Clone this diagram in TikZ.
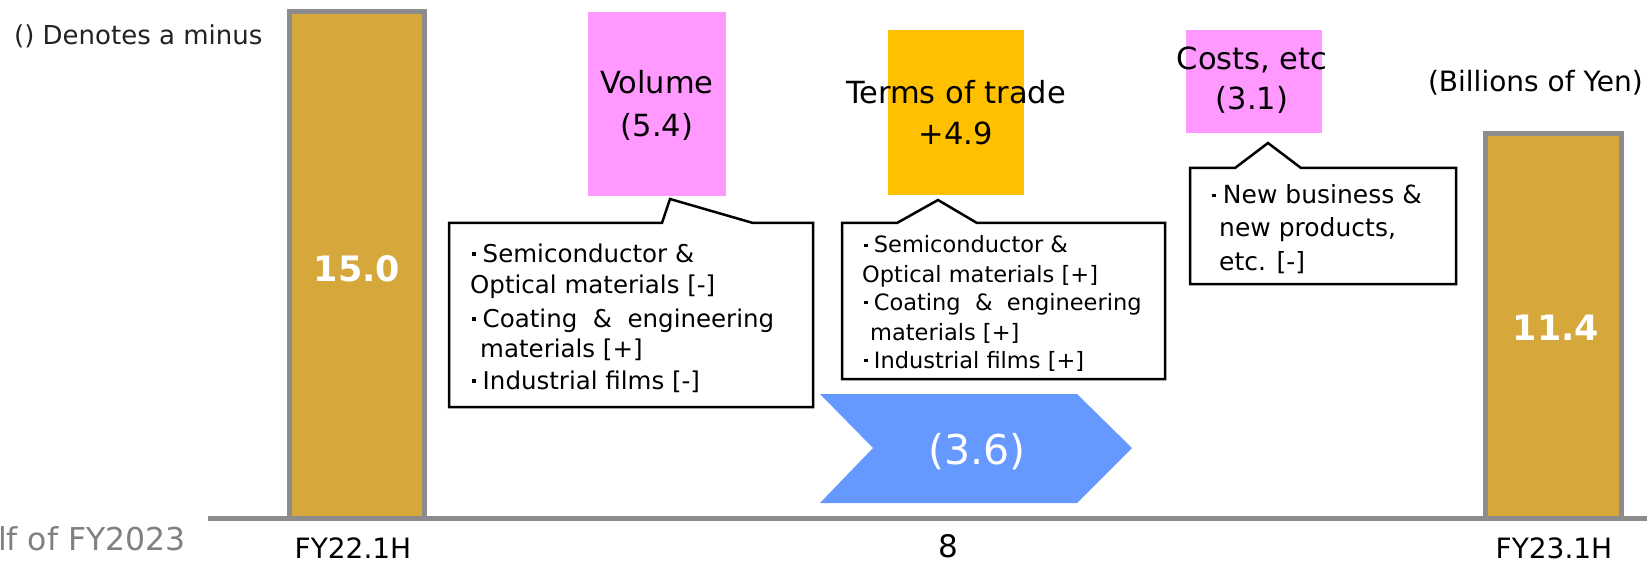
\documentclass[tikz,border=0pt]{standalone}
\usepackage{fontspec}
\setmainfont{DejaVu Sans}
\definecolor{barfill}{HTML}{D6A73B}
\definecolor{bargray}{HTML}{8C8C8C}
\definecolor{pinkbox}{HTML}{FF99FF}
\definecolor{orangebox}{HTML}{FFC000}
\definecolor{bluechev}{HTML}{6699FF}
\definecolor{txtgray}{HTML}{808080}
\definecolor{darktxt}{HTML}{222222}
\newcommand\bdot{\raisebox{0.26em}{\rule{0.15em}{0.15em}}\hspace{0.28em}}
\tikzset{
  barshape/.style={fill=barfill, draw=bargray, line width=5pt},
  callout/.style={fill=white, draw=black, line width=2.5pt, line join=miter},
  txt/.style={inner sep=0pt, text=black},
  big/.style={txt, font=\fontsize{30.5}{36}\selectfont},
  note/.style={txt, anchor=base west, font=\fontsize{24.5}{28}\selectfont},
  notes/.style={txt, anchor=base west, font=\fontsize{22.5}{26}\selectfont},
  notec/.style={txt, anchor=base west, font=\fontsize{25}{29}\selectfont},
  axislbl/.style={txt, font=\fontsize{28}{32}\selectfont},
  barval/.style={txt, text=white, font=\bfseries\fontsize{35}{40}\selectfont},
}
\begin{document}
\begin{tikzpicture}[x=1pt,y=-1pt]
\useasboundingbox (0,0) rectangle (1647,564);

% bars
\draw[barshape] (289.5,520) -- (289.5,11.5) -- (424.5,11.5) -- (424.5,520);
\draw[barshape] (1485.5,520) -- (1485.5,133.5) -- (1621.5,133.5) -- (1621.5,520);
\node[barval] (v150) at (357,269) {15.0};
\node[barval] (v114) at (1556,328) {11.4};

% baseline
\draw[bargray, line width=4.5pt] (208,518.5) -- (1647,518.5);

% coloured boxes
\fill[pinkbox] (588,12) rectangle (726,196);
\node[big] (vol) at (657,82) {Volume};
\node[big] (vold) at (657,127) {(5.4)};

\fill[orangebox] (888,30) rectangle (1024,195);
\node[big] (tot) at (956,92) {Terms of trade};
\node[big] (totd) at (956,133) {+4.9};

\fill[pinkbox] (1186,30) rectangle (1322,133);
\node[big] (cost) at (1252,60) {Costs, etc};
\node[big] (costd) at (1252,100) {(3.1)};

% callouts
\draw[callout] (449,223) -- (662,223) -- (670,199) -- (753,223) -- (813,223) -- (813,407) -- (449,407) -- cycle;
\node[note] (a1) at (472,262) {\bdot Semiconductor \&};
\node[note] (a2) at (470,294) {Optical materials [-]};
\node[note] (a3) at (472,327) {\bdot Coating \ \& \ engineering};
\node[note] (a4) at (480,357) {materials [+]};
\node[note] (a5) at (472,389) {\bdot Industrial films [-]};

\draw[callout] (842,223) -- (897,223) -- (938,200) -- (977,223) -- (1165,223) -- (1165,379) -- (842,379) -- cycle;
\node[notes] (b1) at (864,253) {\bdot Semiconductor \&};
\node[notes] (b2) at (862,283) {Optical materials [+]};
\node[notes] (b3) at (864,310) {\bdot Coating \ \& \ engineering};
\node[notes] (b4) at (870,340) {materials [+]};
\node[notes] (b5) at (864,368) {\bdot Industrial films [+]};

\draw[callout] (1190,168) -- (1235,168) -- (1268,143) -- (1301,168) -- (1456,168) -- (1456,284) -- (1190,284) -- cycle;
\node[notec] (c1) at (1212,204) {\bdot New business \&};
\node[notec] (c2) at (1219,237) {new products,};
\node[notec] (c3) at (1219,271) {etc. [-]};

% chevron
\fill[bluechev] (820,394) -- (1077,394) -- (1132,448) -- (1077,503) -- (820,503) -- (873,448) -- cycle;
\node[txt, text=white, font=\fontsize{41}{46}\selectfont] (tot36) at (977,452) {(3.6)};

% free texts
\node[txt, text=darktxt, anchor=west, font=\fontsize{26}{30}\selectfont] (minus) at (14,36) {() Denotes a minus};
\node[txt, anchor=east, font=\fontsize{28}{32}\selectfont] (unit) at (1643,83) {(Billions of Yen)};
\node[axislbl] (fy22) at (353,548) {FY22.1H};
\node[axislbl] (fy23) at (1554,548) {FY23.1H};
\node[txt, font=\fontsize{31}{36}\selectfont] (pg) at (948,546) {8};
\node[txt, text=txtgray, anchor=east, font=\fontsize{31.5}{36}\selectfont] (hdr) at (186,539) {lf of FY2023};
\end{tikzpicture}
\end{document}
